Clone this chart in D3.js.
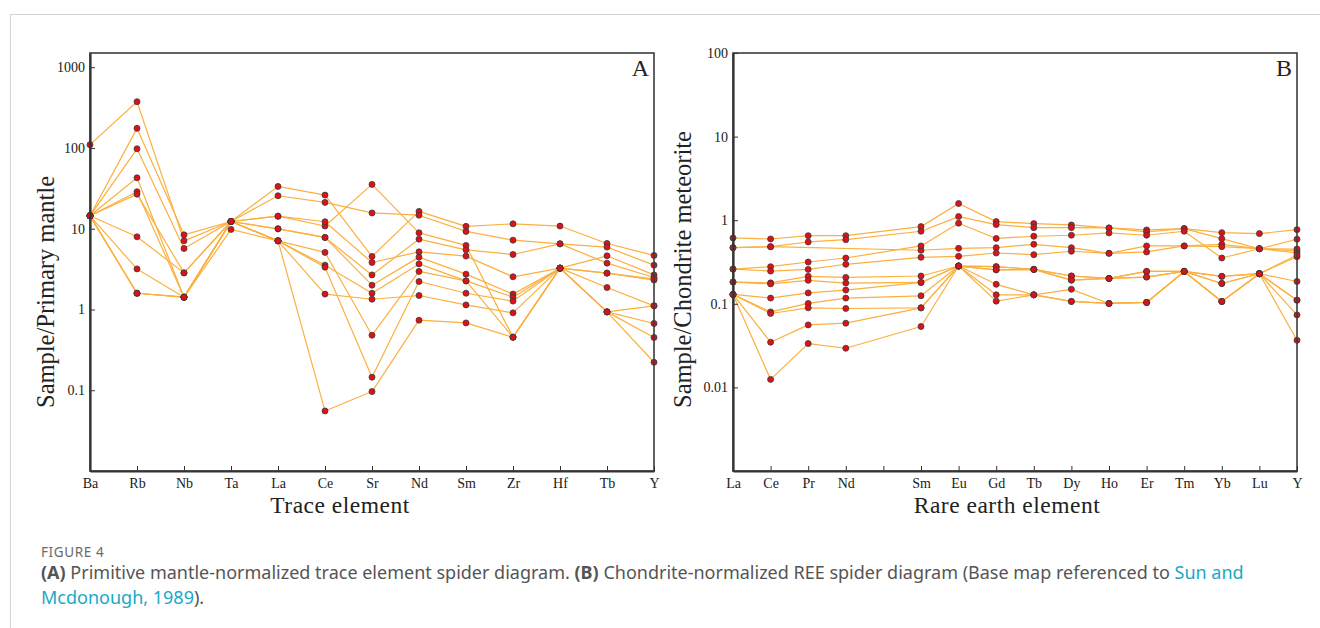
<!DOCTYPE html>
<html><head><meta charset="utf-8">
<script src="https://cdn.jsdelivr.net/npm/d3@7/dist/d3.min.js"></script>
<style>
body{margin:0;background:#fff;}
svg{display:block;}
</style></head><body>
<svg id="chart" width="1320" height="628"></svg>
<script>
// ---------- Panel A: primitive-mantle normalised trace elements ----------
const traceElements = ["Ba","Rb","Nb","Ta","La","Ce","Sr","Nd","Sm","Zr","Hf","Tb","Y"];
const traceTicks = [0.01, 0.1, 1, 10, 100, 1000];
const traceTickLabels = ["", "0.1", "1", "10", "100", "1000"];
const traceS1  = [110, 374, 7.08, 12.3, 33.4, 26.1, 4.54, 16.4, 10.7, 11.5, 10.8, 6.57, 4.67];
const traceS2  = [14.45, 175, 8.40, 12.3, 25.6, 21.2, 15.7, 14.7, 9.26, 7.22, 6.50, 5.92, 3.54];
const traceS3  = [14.45, 97.7, 5.70, 12.3, 14.3, 10.8, 35.4, 8.90, 6.21, 0.454, 3.25, 2.82, 2.31];
const traceS4  = [14.45, 42.7, 1.42, 12.3, 14.3, 12.2, 3.82, 5.17, 4.58, 2.54, 3.25, 4.62, 2.68];
const traceS5  = [14.45, 28.7, 1.42, 12.3, 9.97, 7.80, 2.68, 7.43, 5.48, 4.80, 6.50, 3.75, 2.49];
const traceS6  = [14.45, 26.8, 2.84, 12.3, 9.97, 7.80, 2.00, 4.45, 2.74, 1.55, 3.25, 2.82, 2.40];
const traceS7  = [14.45, 7.94, 2.84, 12.3, 7.08, 5.09, 0.480, 2.96, 2.26, 1.42, 3.25, 1.87, 1.11];
const traceS8  = [14.45, 3.18, 1.42, 12.3, 7.08, 3.54, 1.59, 3.67, 2.26, 0.454, 3.25, 0.934, 1.11];
const traceS9  = [14.45, 1.59, 1.42, 12.3, 7.08, 3.34, 0.145, 2.22, 1.59, 1.27, 3.25, 0.934, 0.671];
const traceS10 = [14.45, 1.59, 1.42, 9.80, 7.08, 1.55, 1.34, 1.49, 1.14, 0.908, 3.25, 0.934, 0.450];
const traceS11 = [14.45, 1.59, 1.42, 12.3, 7.08, 0.0554, 0.0963, 0.737, 0.682, 0.454, 3.25, 0.934, 0.222];
const traceSeries = [traceS1, traceS2, traceS3, traceS4, traceS5, traceS6, traceS7, traceS8, traceS9, traceS10, traceS11];

// ---------- Panel B: chondrite normalised REE ----------
const reeElements = ["La","Ce","Pr","Nd","Pm","Sm","Eu","Gd","Tb","Dy","Ho","Er","Tm","Yb","Lu","Y"];
const reeTicks = [0.001, 0.01, 0.1, 1, 10, 100];
const reeTickLabels = ["", "0.01", "0.1", "1", "10", "100"];
const reeS1  = [0.613, 0.596, 0.653, 0.653, null, 0.838, 1.582, 0.962, 0.910, 0.878, 0.808, 0.765, 0.793, 0.710, 0.691, 0.771];
const reeS2  = [0.469, 0.482, 0.549, 0.585, null, 0.738, 1.105, 0.886, 0.815, 0.815, 0.808, 0.724, 0.793, 0.601, 0.456, 0.592];
const reeS3  = [0.469, 0.482, null, null, null, 0.437, 0.461, 0.469, 0.515, 0.469, 0.402, 0.492, 0.492, 0.515, 0.456, 0.428];
const reeS4  = [0.260, 0.278, 0.316, 0.353, null, 0.492, 0.920, 0.605, 0.643, 0.661, 0.704, 0.661, 0.738, 0.353, 0.456, 0.452];
const reeS5  = [0.260, 0.246, 0.258, 0.297, null, 0.360, 0.370, 0.405, 0.387, 0.425, 0.402, 0.417, 0.492, 0.482, 0.456, 0.405];
const reeS6  = [0.182, 0.178, 0.213, 0.207, null, 0.215, 0.283, 0.278, 0.258, 0.215, 0.201, 0.244, 0.244, 0.213, 0.229, 0.366];
const reeS7  = [0.182, 0.173, 0.191, 0.177, null, 0.180, 0.283, 0.255, 0.258, 0.192, 0.201, 0.209, 0.244, 0.175, 0.229, 0.185];
const reeS8  = [0.1295, 0.117, 0.135, 0.146, null, 0.180, 0.283, 0.278, 0.258, 0.215, 0.201, 0.244, 0.244, 0.213, 0.229, 0.383];
const reeS9  = [0.1295, 0.080, 0.101, 0.117, null, 0.1246, 0.283, 0.171, 0.128, 0.149, 0.101, 0.1038, 0.244, 0.1067, 0.229, 0.1106];
const reeS10 = [0.1295, 0.0766, 0.0894, 0.0879, null, 0.0894, 0.283, 0.128, 0.128, 0.1067, 0.101, 0.1038, 0.244, 0.1067, 0.229, 0.0737];
const reeS11 = [0.1295, 0.0347, 0.0559, 0.0586, null, 0.0894, 0.283, 0.1076, 0.128, 0.1067, 0.101, 0.1038, 0.244, 0.175, 0.229, 0.0366];
const reeS12 = [0.1295, 0.01247, 0.0334, 0.0294, null, 0.0535, 0.283, 0.255, 0.258, 0.192, 0.201, 0.209, 0.244, 0.1067, 0.229, 0.1106];
const reeSeries = [reeS1, reeS2, reeS3, reeS4, reeS5, reeS6, reeS7, reeS8, reeS9, reeS10, reeS11, reeS12];

// ---------- drawing ----------
const svg = d3.select("#chart");
const SERIF = "'Liberation Serif','Times New Roman',serif";
const SANS = "'Noto Sans','Open Sans',sans-serif";
const LINE_COLOR = "#fbb03f";
const DOT_FILL = "#e0101a";

// outer figure border
svg.append("line").attr("x1", 10).attr("x2", 1320).attr("y1", 14.5).attr("y2", 14.5)
  .attr("stroke", "#d4d4d4").attr("stroke-width", 1);
svg.append("line").attr("x1", 10.5).attr("x2", 10.5).attr("y1", 14).attr("y2", 628)
  .attr("stroke", "#d4d4d4").attr("stroke-width", 1);

function panel(opts) {
  const {cats, series, yDomain, xRange, tickVals, tickLabels, yTitle, xTitle, xTitleX, yTitleX, letter, letterX, hidden} = opts;
  const top = 53, bottom = 471;
  const x = d3.scalePoint().domain(cats).range(xRange);
  const y = d3.scaleLog().domain(yDomain).range([bottom, top]);
  const g = svg.append("g");

  // lines
  const line = d3.line().x(d => x(d.c)).y(d => y(d.v));
  series.forEach(s => {
    const pts = s.map((v, i) => ({c: cats[i], v})).filter(d => d.v != null);
    g.append("path").datum(pts).attr("d", line)
      .attr("fill", "none").attr("stroke", LINE_COLOR).attr("stroke-width", 1.2)
      .attr("stroke-linejoin", "round");
  });
  // dots
  series.forEach(s => {
    const pts = s.map((v, i) => ({c: cats[i], v})).filter(d => d.v != null);
    g.selectAll(null).data(pts).enter().append("circle")
      .attr("cx", d => x(d.c)).attr("cy", d => y(d.v)).attr("r", 3)
      .attr("fill", DOT_FILL).attr("stroke", "#3a3a3a").attr("stroke-width", 0.8);
  });

  // frame
  g.append("rect").attr("x", xRange[0]).attr("y", top)
    .attr("width", xRange[1] - xRange[0]).attr("height", bottom - top)
    .attr("fill", "none").attr("stroke", "#3c3c3c").attr("stroke-width", 1.6);

  // x axis
  const xa = g.append("g").attr("transform", `translate(0,${bottom})`)
    .call(d3.axisBottom(x).tickSize(-5).tickSizeOuter(0).tickPadding(7)
      .tickFormat(d => hidden.includes(d) ? "" : d));
  xa.select(".domain").attr("stroke", "#333").attr("stroke-width", 2.2);
  xa.selectAll(".tick line").attr("stroke", "#333").attr("stroke-width", 1);
  xa.selectAll("text").attr("font-family", SERIF).attr("font-size", 14).attr("fill", "#1a1a1a");

  // y axis
  const ya = g.append("g").attr("transform", `translate(${xRange[0]},0)`)
    .call(d3.axisLeft(y).tickValues(tickVals).tickSize(-5).tickSizeOuter(0).tickPadding(5)
      .tickFormat((d, i) => tickLabels[i]));
  ya.select(".domain").attr("stroke", "#333").attr("stroke-width", 2.2);
  ya.selectAll(".tick line").attr("stroke", "#333").attr("stroke-width", 1);
  ya.selectAll("text").attr("font-family", SERIF).attr("font-size", 14).attr("fill", "#1a1a1a");

  // titles
  g.append("text").attr("x", xTitleX).attr("y", 513).attr("text-anchor", "middle")
    .attr("font-family", SERIF).attr("font-size", 23.5).attr("fill", "#222")
    .attr("letter-spacing", 0.5).text(xTitle);
  g.append("text").attr("transform", `translate(${yTitleX},408) rotate(-90)`)
    .attr("text-anchor", "start").attr("font-family", SERIF).attr("font-size", 24.5)
    .attr("fill", "#222").text(yTitle);
  g.append("text").attr("x", letterX).attr("y", 76).attr("text-anchor", "end")
    .attr("font-family", SERIF).attr("font-size", 24).attr("fill", "#222").text(letter);
}

panel({cats: traceElements, series: traceSeries, yDomain: [0.01, 1500], xRange: [90, 654],
  tickVals: traceTicks, tickLabels: traceTickLabels, yTitle: "Sample/Primary mantle",
  xTitle: "Trace element", xTitleX: 340, yTitleX: 54, letter: "A", letterX: 649, hidden: []});
panel({cats: reeElements, series: reeSeries, yDomain: [0.001, 100], xRange: [733, 1297],
  tickVals: reeTicks, tickLabels: reeTickLabels, yTitle: "Sample/Chondrite meteorite",
  xTitle: "Rare earth element", xTitleX: 1007, yTitleX: 691, letter: "B", letterX: 1292, hidden: ["Pm"]});

// ---------- caption ----------
svg.append("text").attr("x", 41).attr("y", 557).attr("font-family", SANS)
  .attr("font-size", 13.5).attr("letter-spacing", 0.6).attr("fill", "#6a6a6a").text("FIGURE 4");
const cap1 = svg.append("text").attr("x", 41).attr("y", 579).attr("font-family", SANS)
  .attr("font-size", 18).attr("fill", "#555");
cap1.append("tspan").attr("font-weight", "bold").text("(A)");
cap1.append("tspan").text(" Primitive mantle-normalized trace element spider diagram. ");
cap1.append("tspan").attr("font-weight", "bold").text("(B)");
cap1.append("tspan").text(" Chondrite-normalized REE spider diagram (Base map referenced to ");
cap1.append("tspan").attr("fill", "#19a9c6").text("Sun and");
const cap2 = svg.append("text").attr("x", 41).attr("y", 604).attr("font-family", SANS)
  .attr("font-size", 18).attr("fill", "#555");
cap2.append("tspan").attr("fill", "#19a9c6").text("Mcdonough, 1989");
cap2.append("tspan").text(").");
</script>
</body></html>
